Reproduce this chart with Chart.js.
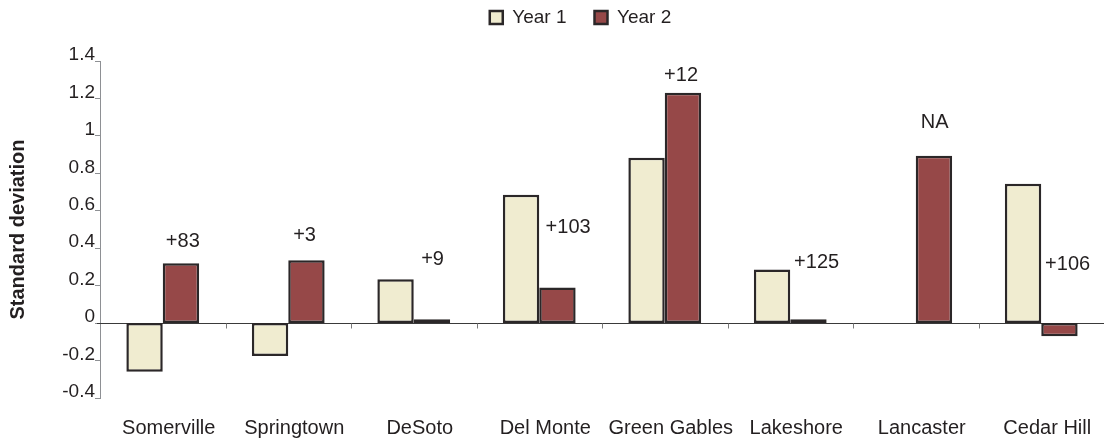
<!DOCTYPE html>
<html>
<head>
<meta charset="utf-8">
<script src="https://cdn.jsdelivr.net/npm/chart.js@4/dist/chart.umd.min.js"></script>
<style>
  html, body { margin: 0; padding: 0; background: #ffffff; }
  #wrap { width: 1104px; height: 441px; }
</style>
</head>
<body>
<div id="wrap"><canvas id="sdChart" width="1104" height="441"></canvas></div>
<script>
// Standard deviation by site, two years
const sites = ['Somerville', 'Springtown', 'DeSoto', 'Del Monte', 'Green Gables', 'Lakeshore', 'Lancaster', 'Cedar Hill'];
const year1 = [-0.26, -0.175, 0.234, 0.686, 0.883, 0.287, null, 0.745];
const year2 = [0.32, 0.336, 0.02, 0.19, 1.23, 0.02, 0.894, -0.07];
const yTickLabels = ['-0.4', '-0.2', '0', '0.2', '0.4', '0.6', '0.8', '1', '1.2', '1.4'];

// change notes written next to each site's bars
const notes = ['+83', '+3', '+9', '+103', '+12', '+125', 'NA', '+106'];
// where the notes sit: height in axis units, shift right as a share of the category
const noteY = [0.436, 0.468, 0.34, 0.513, 1.324, 0.324, 1.074, 0.311];
const noteShift = [0.16, 0.13, 0.15, 0.23, 0.13, 0.21, 0.15, 0.21];

const ink = '#231f20';
const font = 'Liberation Sans, Arial, Helvetica, sans-serif';

// zero line with the little category ticks under it
const zeroLine = {
    id: 'zeroLine',
    beforeDatasetsDraw(chart) {
        const { ctx, chartArea } = chart;
        const x = chart.scales.x;
        const y0 = Math.round(chart.scales.y.getPixelForValue(0)) + 0.5;
        ctx.save();
        ctx.strokeStyle = '#3a3a3a';
        ctx.lineWidth = 1.2;
        ctx.beginPath();
        ctx.moveTo(chartArea.left - 3, y0);
        ctx.lineTo(chartArea.right, y0);
        ctx.stroke();
        ctx.strokeStyle = '#7a7a7a';
        ctx.lineWidth = 1;
        for (let i = 0; i < sites.length - 1; i++) {
            const xb = Math.round((x.getPixelForValue(i) + x.getPixelForValue(i + 1)) / 2) + 0.5;
            ctx.beginPath();
            ctx.moveTo(xb, y0);
            ctx.lineTo(xb, y0 + 5);
            ctx.stroke();
        }
        ctx.restore();
    }
};

// the "+83" style notes
const noteLabels = {
    id: 'noteLabels',
    afterDatasetsDraw(chart) {
        const { ctx } = chart;
        const x = chart.scales.x;
        const y = chart.scales.y;
        const catW = x.getPixelForValue(1) - x.getPixelForValue(0);
        ctx.save();
        ctx.font = '20px ' + font;
        ctx.fillStyle = ink;
        ctx.textAlign = 'center';
        ctx.textBaseline = 'middle';
        notes.forEach((t, i) => {
            ctx.fillText(t, x.getPixelForValue(i) + noteShift[i] * catW, y.getPixelForValue(noteY[i]));
        });
        ctx.restore();
    }
};

// keep the legend up top and centred over the bars like the original
const legendPlace = {
    id: 'legendPlace',
    beforeUpdate(chart) {
        const lg = chart.legend;
        if (lg && !lg._patched) {
            const fit = lg.fit;
            lg.fit = function () { fit.call(this); this.height = 81; };
            lg._patched = true;
        }
    },
    afterLayout(chart) {
        chart.legend.left += 26;
        chart.legend.right += 26;
    }
};

const ctx = document.getElementById('sdChart').getContext('2d');
new Chart(ctx, {
    type: 'bar',
    data: {
        labels: sites,
        datasets: [
            {
                label: 'Year 1',
                data: year1,
                backgroundColor: '#f0ecd0',
                borderColor: '#2b2728',
                borderWidth: 2.5,
                borderSkipped: false
            },
            {
                label: 'Year 2',
                data: year2,
                backgroundColor: '#964848',
                borderColor: '#2b2728',
                borderWidth: 2.5,
                borderSkipped: false
            }
        ]
    },
    options: {
        responsive: false,
        animation: false,
        layout: {
            padding: { top: -20, right: -5, bottom: 0, left: 0 }
        },
        datasets: {
            bar: {
                categoryPercentage: 0.58,
                barPercentage: 1.0
            }
        },
        plugins: {
            legend: {
                position: 'top',
                labels: {
                    color: ink,
                    font: { family: font, size: 19 },
                    boxWidth: 13,
                    boxHeight: 13,
                    padding: 28
                }
            },
            tooltip: { enabled: false }
        },
        scales: {
            x: {
                grid: { display: false, drawTicks: false },
                border: { display: false },
                ticks: {
                    color: ink,
                    font: { family: font, size: 20 },
                    padding: 18,
                    labelOffset: 6,
                    maxRotation: 0,
                    autoSkip: false
                },
                afterFit(scale) { scale.height = 43; }
            },
            y: {
                min: -0.4,
                max: 1.4,
                grid: {
                    drawOnChartArea: false,
                    drawTicks: true,
                    tickLength: 5,
                    color: '#8e9094'
                },
                border: { display: true, color: '#8e9094', width: 1 },
                ticks: {
                    stepSize: 0.2,
                    color: ink,
                    font: { family: font, size: 19 },
                    padding: 0,
                    labelOffset: -6,
                    callback: (v, i) => yTickLabels[i]
                },
                title: {
                    display: true,
                    text: 'Standard deviation',
                    color: ink,
                    font: { family: font, size: 20, weight: 'bold' },
                    padding: { top: 6, bottom: 0 }
                },
                afterFit(scale) { scale.width = 100; }
            }
        }
    },
    plugins: [zeroLine, noteLabels, legendPlace]
});
</script>
</body>
</html>
